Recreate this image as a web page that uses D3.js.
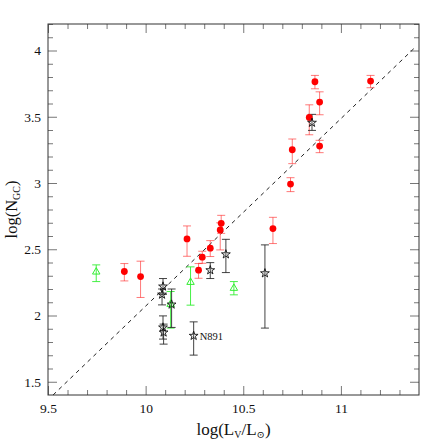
<!DOCTYPE html>
<html lang="en">
  <head>
    <meta charset="UTF-8" />
    <script src="https://cdn.jsdelivr.net/npm/d3@7"></script>
    <style>
      * {
        margin: 0;
        padding: 0;
      }
      body {
        background: #fff;
      }
      text {
        font-family: 'Liberation Serif', 'DejaVu Serif', serif;
      }
    </style>
    <title>log NGC vs log LV</title>
  </head>
  <body>
    <div id="chart"></div>
    <script>
      // red filled circles
      const redX = [9.891, 9.974, 10.212, 10.271, 10.29, 10.331, 10.382, 10.387, 10.652, 10.742, 10.751, 10.838, 10.867, 10.891, 10.891, 11.152];
      const redY = [2.332, 2.294, 2.578, 2.342, 2.44, 2.508, 2.646, 2.696, 2.656, 2.992, 3.251, 3.495, 3.764, 3.611, 3.279, 3.769];
      const redHi = [2.392, 2.41, 2.676, 2.392, 2.485, 2.565, 2.7, 2.756, 2.741, 3.04, 3.332, 3.59, 3.812, 3.688, 3.322, 3.812];
      const redLo = [2.261, 2.136, 2.447, 2.281, 2.394, 2.445, 2.495, 2.62, 2.543, 2.935, 3.146, 3.364, 3.711, 3.515, 3.229, 3.719];

      // green open triangles
      const greenX = [9.747, 10.128, 10.23, 10.452];
      const greenY = [2.329, 2.085, 2.251, 2.206];
      const greenHi = [2.382, 2.181, 2.367, 2.256];
      const greenLo = [2.256, 1.905, 2.078, 2.156];

      // black open stars
      const starX = [10.089, 10.084, 10.133, 10.089, 10.092, 10.246, 10.331, 10.411, 10.611, 10.852];
      const starY = [2.219, 2.158, 2.083, 1.91, 1.872, 1.847, 2.342, 2.462, 2.319, 3.455];
      const starHi = [2.279, 2.2, 2.2, 1.997, 1.935, 1.952, 2.399, 2.575, 2.533, 3.518];
      const starLo = [2.16, 2.08, 1.91, 1.822, 1.784, 1.701, 2.279, 2.324, 1.905, 3.397];
      const starNames = ['', '', '', '', '', 'N891', '', '', '', ''];

      // dashed relation, two end points
      const fitX = [9.526, 11.386];
      const fitY = [1.4, 4.032];

      const xTicks = [9.5, 10, 10.5, 11];
      const yTicks = [1.5, 2, 2.5, 3, 3.5, 4];

      const width = 443;
      const height = 443;
      const margin = { left: 48, right: 24, top: 24, bottom: 48 };

      const svg = d3
        .select('#chart')
        .append('svg')
        .attr('width', width)
        .attr('height', height);

      const x = d3
        .scaleLinear()
        .domain([9.5, 11.4])
        .range([margin.left, width - margin.right]);
      const y = d3
        .scaleLinear()
        .domain([1.4, 4.2])
        .range([height - margin.bottom, margin.top]);

      const minorX = d3.range(96, 114).map((v) => v / 10).filter((v) => xTicks.indexOf(v) < 0);
      const minorY = d3.range(15, 43).map((v) => v / 10).filter((v) => yTicks.indexOf(v) < 0);

      const tickColor = '#777';
      const axisLayer = svg.append('g');

      // ticks on all four sides, pointing inward
      const addAxis = (axis, tx, ty, vals, len, pad) => {
        const g = axisLayer
          .append('g')
          .attr('transform', `translate(${tx},${ty})`)
          .call(
            axis
              .tickValues(vals)
              .tickSize(-len)
              .tickPadding(pad || 0)
              .tickFormat(pad ? d3.format('') : '')
          );
        g.select('.domain').remove();
        g.selectAll('line').attr('stroke', tickColor);
        g.selectAll('text').attr('font-size', 13.5).attr('fill', '#111');
        return g;
      };
      const bottomY = height - margin.bottom;
      const rightX = width - margin.right;
      addAxis(d3.axisBottom(x), 0, bottomY, xTicks, 9, 8);
      addAxis(d3.axisBottom(x), 0, bottomY, minorX, 5);
      addAxis(d3.axisTop(x), 0, margin.top, xTicks, 9);
      addAxis(d3.axisTop(x), 0, margin.top, minorX, 5);
      addAxis(d3.axisLeft(y), margin.left, 0, yTicks, 9, 7);
      addAxis(d3.axisLeft(y), margin.left, 0, minorY, 5);
      addAxis(d3.axisRight(y), rightX, 0, yTicks, 9);
      addAxis(d3.axisRight(y), rightX, 0, minorY, 5);

      // frame
      svg
        .append('rect')
        .attr('x', margin.left)
        .attr('y', margin.top)
        .attr('width', rightX - margin.left)
        .attr('height', bottomY - margin.top)
        .attr('fill', 'none')
        .attr('stroke', '#333')
        .attr('stroke-width', 1);

      // dashed line
      svg
        .append('line')
        .attr('x1', x(fitX[0]))
        .attr('y1', y(fitY[0]))
        .attr('x2', x(fitX[1]))
        .attr('y2', y(fitY[1]))
        .attr('stroke', '#222')
        .attr('stroke-width', 1)
        .attr('stroke-dasharray', '4,4');

      const dataLayer = svg.append('g');

      const drawErrors = (xs, hi, lo, color, opacity) => {
        const g = dataLayer.append('g').attr('stroke', color).attr('stroke-opacity', opacity);
        xs.forEach((v, i) => {
          const cx = x(v);
          g.append('line').attr('x1', cx).attr('x2', cx).attr('y1', y(hi[i])).attr('y2', y(lo[i]));
          [hi[i], lo[i]].forEach((e) => {
            g.append('line')
              .attr('x1', cx - 4)
              .attr('x2', cx + 4)
              .attr('y1', y(e))
              .attr('y2', y(e));
          });
        });
      };

      drawErrors(redX, redHi, redLo, '#ff2020', 0.6);
      drawErrors(greenX, greenHi, greenLo, '#33ee33', 0.9);
      drawErrors(starX, starHi, starLo, '#222', 0.85);

      // red circles
      dataLayer
        .append('g')
        .selectAll('circle')
        .data(redX)
        .join('circle')
        .attr('cx', (d) => x(d))
        .attr('cy', (d, i) => y(redY[i]))
        .attr('r', 3.4)
        .attr('fill', '#ff0000');

      // green triangles
      dataLayer
        .append('g')
        .selectAll('path')
        .data(greenX)
        .join('path')
        .attr('d', d3.symbol(d3.symbolTriangle, 24))
        .attr('transform', (d, i) => `translate(${x(d)},${y(greenY[i])})`)
        .attr('fill', 'none')
        .attr('stroke', '#33ee33')
        .attr('stroke-width', 1);

      // black stars
      dataLayer
        .append('g')
        .selectAll('path')
        .data(starX)
        .join('path')
        .attr('d', d3.symbol(d3.symbolStar, 24))
        .attr('transform', (d, i) => `translate(${x(d)},${y(starY[i])})`)
        .attr('fill', 'none')
        .attr('stroke', '#111')
        .attr('stroke-width', 0.9);

      dataLayer
        .append('g')
        .selectAll('text')
        .data(starX)
        .join('text')
        .attr('x', (d) => x(d) + 6)
        .attr('y', (d, i) => y(starY[i]) + 4)
        .attr('font-size', 10.5)
        .attr('fill', '#111')
        .text((d, i) => starNames[i]);

      // axis titles
      const xTitle = svg
        .append('text')
        .attr('x', (margin.left + rightX) / 2)
        .attr('y', 435)
        .attr('text-anchor', 'middle')
        .attr('font-size', 17)
        .attr('fill', '#111');
      xTitle.append('tspan').text('log(L');
      xTitle.append('tspan').attr('font-size', 10).attr('dy', 3).text('V');
      xTitle.append('tspan').attr('dy', -3).text('/L');
      xTitle.append('tspan').attr('font-size', 10).attr('dy', 3).text('⊙');
      xTitle.append('tspan').attr('dy', -3).text(')');

      const yTitle = svg
        .append('text')
        .attr('transform', `translate(17,${(margin.top + bottomY) / 2}) rotate(-90)`)
        .attr('text-anchor', 'middle')
        .attr('font-size', 16.5)
        .attr('fill', '#111');
      yTitle.append('tspan').text('log(N');
      yTitle.append('tspan').attr('font-size', 10).attr('dy', 3).text('GC');
      yTitle.append('tspan').attr('dy', -3).text(')');
    </script>
  </body>
</html>
